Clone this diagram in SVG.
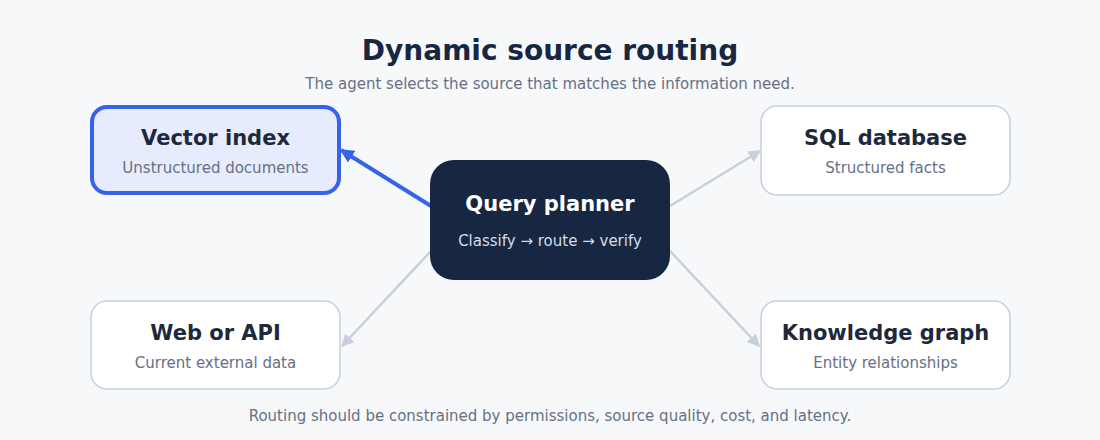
<svg xmlns="http://www.w3.org/2000/svg" width="1100" height="440" viewBox="0 0 1100 440">
<defs>
<style>
text{font-family:"DejaVu Sans","Liberation Sans",sans-serif;text-anchor:middle}
.title{font-size:28px;font-weight:bold;fill:#172641}
.sub{font-size:15px;fill:#667085}
.nt{font-size:21px;font-weight:bold;fill:#1E293B}
.ns{font-size:15px;fill:#667085}
.box{fill:#FFFFFF;stroke:#C8CFDC;stroke-width:1.5}
.edge{stroke:#C8CFDC;stroke-width:2.5;fill:none}
</style>
<marker id="ag" viewBox="0 0 10 10" refX="9" refY="5" markerWidth="5" markerHeight="5" orient="auto" markerUnits="strokeWidth"><path d="M0,0 L10,5 L0,10 z" fill="#C8CFDC"/></marker>
<marker id="ab" viewBox="0 0 10 10" refX="9" refY="5" markerWidth="3.5" markerHeight="3.5" orient="auto" markerUnits="strokeWidth"><path d="M0,0 L10,5 L0,10 z" fill="#3563E9"/></marker>
</defs>
<rect width="1100" height="440" fill="#F7F8FA"/>
<text class="title" x="550" y="60">Dynamic source routing</text>
<text class="sub" x="550" y="89">The agent selects the source that matches the information need.</text>
<g id="connectors">
<line x1="431" y1="206" x2="341" y2="150" stroke="#3563E9" stroke-width="4" marker-end="url(#ab)"/>
<line class="edge" x1="670" y1="206" x2="760" y2="151" marker-end="url(#ag)"/>
<line class="edge" x1="431" y1="251" x2="342" y2="346" marker-end="url(#ag)"/>
<line class="edge" x1="670" y1="251" x2="759" y2="346" marker-end="url(#ag)"/>
</g>
<g id="vector">
<rect x="92" y="107" width="247" height="86" rx="15" fill="#E6ECFD" stroke="#3563E9" stroke-width="4"/>
<text class="nt" x="215.5" y="145">Vector index</text>
<text class="ns" x="215.5" y="173">Unstructured documents</text>
</g>
<g id="sql">
<rect class="box" x="761" y="106" width="249" height="89" rx="16"/>
<text class="nt" x="885.5" y="145">SQL database</text>
<text class="ns" x="885.5" y="173">Structured facts</text>
</g>
<g id="web">
<rect class="box" x="91" y="301" width="249" height="88" rx="16"/>
<text class="nt" x="215.5" y="340">Web or API</text>
<text class="ns" x="215.5" y="368">Current external data</text>
</g>
<g id="kg">
<rect class="box" x="761" y="301" width="249" height="88" rx="16"/>
<text class="nt" x="885.5" y="340">Knowledge graph</text>
<text class="ns" x="885.5" y="368">Entity relationships</text>
</g>
<g id="planner">
<rect x="430" y="160" width="240" height="120" rx="24" fill="#172641"/>
<text class="nt" x="550" y="211" style="fill:#FFFFFF">Query planner</text>
<text class="ns" x="550" y="246" style="fill:#D5DCE8">Classify → route → verify</text>
</g>
<text class="sub" x="550" y="421">Routing should be constrained by permissions, source quality, cost, and latency.</text>
</svg>
